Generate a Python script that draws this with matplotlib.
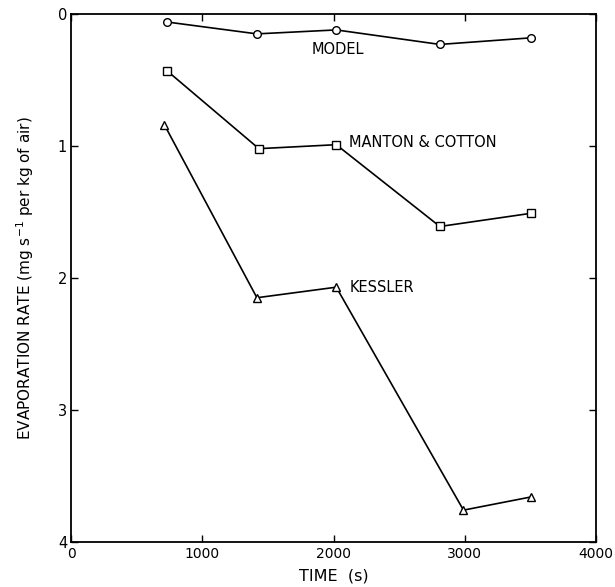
import matplotlib
matplotlib.use('Agg')
import matplotlib.pyplot as plt

# values
time_model = [730, 1415, 2020, 2810, 3505]
rate_model = [0.06, 0.15, 0.12, 0.23, 0.18]

time_manton = [730, 1430, 2020, 2810, 3505]
rate_manton = [0.43, 1.02, 0.99, 1.61, 1.51]

time_kessler = [710, 1415, 2020, 2990, 3505]
rate_kessler = [0.84, 2.15, 2.07, 3.76, 3.66]

x_ticks = [0, 1000, 2000, 3000, 4000]
y_ticks = [0, 1, 2, 3, 4]


def main():
    fig = plt.figure(figsize=(6.15, 5.87), dpi=100)
    ax = fig.add_axes([0.116, 0.077, 0.853, 0.899])

    style = dict(color='black', lw=1.2, mfc='white', mec='black', mew=1.0)
    ax.plot(time_model, rate_model, marker='o', ms=5.5, **style)
    ax.plot(time_manton, rate_manton, marker='s', ms=5.5, **style)
    ax.plot(time_kessler, rate_kessler, marker='^', ms=6, **style)

    ax.text(1830, 0.27, 'MODEL', fontsize=10.5, va='center', ha='left')
    ax.text(2120, 0.975, 'MANTON & COTTON', fontsize=10.5, va='center', ha='left')
    ax.text(2120, 2.07, 'KESSLER', fontsize=10.5, va='center', ha='left')

    ax.set_xlim(0, 4000)
    ax.set_ylim(4, 0)
    ax.set_xticks(x_ticks)
    ax.set_yticks(y_ticks)
    ax.tick_params(direction='in', top=True, right=True, length=5, width=1,
                   labelsize=10)
    ax.tick_params(axis='y', pad=3, labelsize=10.5)
    ax.tick_params(axis='x', pad=4)
    for s in ax.spines.values():
        s.set_linewidth(1.3)

    ax.set_xlabel('TIME  (s)', fontsize=11.5, labelpad=5)
    ax.set_ylabel('EVAPORATION RATE (mg s$^{-1}$ per kg of air)', fontsize=11,
                  labelpad=16)

    fig.savefig('out.png', dpi=100)


if __name__ == '__main__':
    main()
